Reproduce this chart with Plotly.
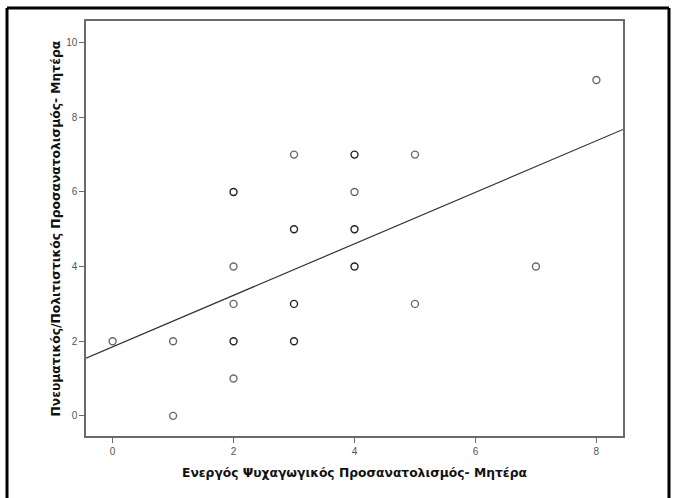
import plotly.graph_objects as go

# Observed (x, y) pairs; count > 1 marks coincident observations (drawn darker)
x_vals = [0, 1, 1, 2, 2, 2, 2, 2, 3, 3, 3, 3, 4, 4, 4, 4, 5, 5, 7, 8]
y_vals = [2, 2, 0, 6, 4, 3, 2, 1, 7, 5, 3, 2, 7, 6, 5, 4, 7, 3, 4, 9]
counts = [1, 1, 1, 2, 1, 1, 2, 1, 1, 2, 2, 2, 2, 1, 2, 2, 1, 1, 1, 1]

# Linear fit line (total population)
fit_intercept = 1.85
fit_slope = 0.69

x_range = [-0.44, 8.44]
y_range = [-0.54, 10.58]
x_ticks = [0, 2, 4, 6, 8]
y_ticks = [0, 2, 4, 6, 8, 10]

x_title = "Ενεργός Ψυχαγωγικός Προσανατολισμός- Μητέρα"
y_title = "Πνευματικός/Πολιτιστικός Προσανατολισμός- Μητέρα"

marker_colors = ["#222222" if c > 1 else "#6a6a6a" for c in counts]

fig = go.Figure()

fit_x = x_range
fit_y = [fit_intercept + fit_slope * v for v in fit_x]
fig.add_trace(go.Scatter(
    x=fit_x, y=fit_y, mode="lines",
    line=dict(color="#333333", width=1.2),
    hoverinfo="skip", showlegend=False,
))

fig.add_trace(go.Scatter(
    x=x_vals, y=y_vals, mode="markers",
    marker=dict(symbol="circle-open", size=7, color=marker_colors,
                line=dict(width=1.4)),
    showlegend=False,
))

tick_font = dict(family="Liberation Sans Narrow, Liberation Sans, Arial", size=10, color="#555555")
axis_common = dict(
    showgrid=False, zeroline=False, showline=True, linecolor="#6a6a6a",
    linewidth=1.5, mirror=True, ticks="outside", ticklen=5, tickwidth=1.2,
    tickcolor="#6a6a6a", tickfont=tick_font,
)
title_font = dict(family="DejaVu Sans, Verdana, sans-serif", size=12.3, color="#111111")

fig.update_layout(
    width=675, height=498,
    margin=dict(l=86, r=52, t=21, b=62),
    paper_bgcolor="white", plot_bgcolor="white",
    xaxis=dict(range=x_range, tickvals=x_ticks, **axis_common),
    yaxis=dict(range=y_range, tickvals=y_ticks, **axis_common),
    annotations=[
        dict(text="<b>" + x_title + "</b>", xref="paper", yref="paper",
             x=0.5, y=-36.7 / 415, xanchor="center", yanchor="middle",
             showarrow=False, font=title_font),
        dict(text="<b>" + y_title + "</b>", xref="paper", yref="paper",
             x=-31 / 537, y=0.5, xanchor="center", yanchor="middle",
             textangle=-90, showarrow=False, font=title_font),
    ],
    shapes=[
        # outer black frame (top, left, right)
        dict(type="line", xref="paper", yref="paper",
             x0=-79 / 537, x1=583 / 537, y0=(436 - 8) / 415, y1=(436 - 8) / 415,
             line=dict(color="black", width=3)),
        dict(type="line", xref="paper", yref="paper",
             x0=-79 / 537, x1=-79 / 537, y0=(436 - 8) / 415, y1=(436 - 500) / 415,
             line=dict(color="black", width=3)),
        dict(type="line", xref="paper", yref="paper",
             x0=583 / 537, x1=583 / 537, y0=(436 - 8) / 415, y1=(436 - 500) / 415,
             line=dict(color="black", width=3)),
    ],
)

fig.write_html("out.html")
